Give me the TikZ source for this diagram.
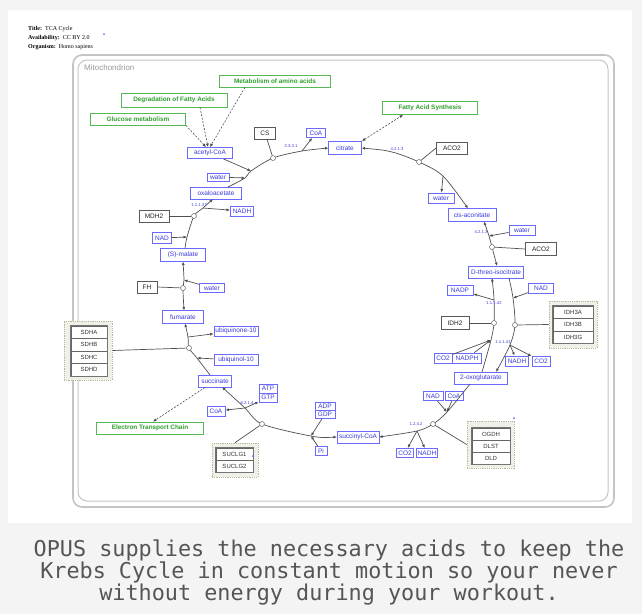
\documentclass[tikz,border=0pt]{standalone}
\usepackage{fontspec}
\setmainfont{Liberation Sans}
\newfontfamily\hdrfam{Liberation Serif}
\newfontfamily\capfam{DejaVu Sans Mono}
\usetikzlibrary{arrows.meta}
\definecolor{metb}{HTML}{6A6AFF}
\definecolor{mett}{HTML}{3A3AE0}
\definecolor{pwb}{HTML}{55B855}
\definecolor{pwt}{HTML}{2E9E2E}
\definecolor{cmpb}{HTML}{C4C4C4}
\definecolor{grpb}{HTML}{B8B8A0}
\definecolor{grpf}{HTML}{F0F0E8}
\definecolor{bgc}{HTML}{F4F4F4}
\definecolor{capc}{HTML}{555555}
\definecolor{rxc}{HTML}{505050}
\newcommand\metfnt{\fontsize{6.5}{7}\selectfont}
\newcommand\genfnt{\fontsize{6}{7}\selectfont}
\newcommand\pwfnt{\fontsize{6.4}{7}\selectfont\bfseries}
\newcommand\ecfnt{\fontsize{4.2}{4.5}\selectfont}
\newcommand\hdrfnt{\hdrfam\fontsize{6}{7}\selectfont}
\tikzset{
  met/.style={draw=metb, fill=white, text=mett, font=\metfnt, inner sep=0pt, line width=0.9pt},
  gene/.style={draw=black!65, fill=white, text=black!85, font=\metfnt, inner sep=0pt, line width=0.9pt},
  pw/.style={draw=pwb, fill=white, text=pwt, font=\pwfnt, inner sep=0pt, line width=0.8pt},
  grp/.style={draw=grpb, fill=grpf, dashed, dash pattern=on 1.2pt off 1pt, line width=0.6pt, inner sep=0pt},
  sub/.style={draw=black!60, fill=white, text=black!80, font=\genfnt, inner sep=0pt, line width=0.6pt},
  stackframe/.style={draw=black!55, line width=1.1pt},
  cat/.style={circle, draw=black!60, fill=white, inner sep=0pt, minimum size=5pt, line width=0.5pt},
  rx/.style={draw=rxc, line width=0.7pt},
  tip/.style={-{Latex[length=3.5pt,width=3pt]}},
  rtip/.style={{Latex[length=3.5pt,width=3pt]}-},
  dtip/.style={{Latex[length=3.5pt,width=3pt]}-{Latex[length=3.5pt,width=3pt]}},
  dl/.style={draw=black!70, line width=0.6pt, dash pattern=on 2pt off 1.5pt},
  ec/.style={text=mett, font=\ecfnt, inner sep=0pt},
  mk/.style={circle, fill=metb, inner sep=0pt, minimum size=2pt},
  cmp/.style={draw=cmpb, rounded corners=9pt},
}
\begin{document}
\begin{tikzpicture}[x=1pt,y=-1pt]
\useasboundingbox (0,0) rectangle (642,614);
\fill[bgc] (0,0) rectangle (642,614);
\fill[white] (8,10) rectangle (632,523);

% header
\node[font=\hdrfnt, anchor=west, inner sep=0pt] (hTitle) at (28,29) {\textbf{Title:}\ \ TCA Cycle};
\node[font=\hdrfnt, anchor=west, inner sep=0pt] (hAvail) at (28,38) {\textbf{Availability:}\ \ CC BY 2.0};
\node[font=\hdrfnt, anchor=west, inner sep=0pt] (hOrg) at (28,47) {\textbf{Organism:}\ \ Homo sapiens};
\node[mk] (mk1) at (104,34) {};

% compartment
\draw[cmp, line width=1.6pt] (73,55) rectangle (614,507);
\draw[cmp, line width=1pt] (78,60) rectangle (608,501);
\node[anchor=west, text=black!40, font=\fontsize{8}{9}\selectfont, inner sep=0pt] (mito) at (84,68) {Mitochondrion};

% pathways
\node[pw, minimum width=111, minimum height=12] (pMet) at (275,81) {Metabolism of amino acids};
\node[pw, minimum width=106, minimum height=14] (pDeg) at (174,100) {Degradation of Fatty Acids};
\node[pw, minimum width=95, minimum height=12] (pGlu) at (138,119) {Glucose metabolism};
\node[pw, minimum width=95, minimum height=13] (pFas) at (430,108) {Fatty Acid Synthesis};
\node[pw, minimum width=107, minimum height=12] (pEtc) at (150,428) {Electron Transport Chain};

% metabolites
\node[met, minimum width=45, minimum height=11] (acoa) at (210,153) {acetyl-CoA};
\node[met, minimum width=19, minimum height=9] (coaA) at (316,133) {CoA};
\node[met, minimum width=33, minimum height=13] (citrate) at (345,148) {citrate};
\node[met, minimum width=26, minimum height=10] (waterA) at (441,198) {water};
\node[met, minimum width=48, minimum height=13] (cisacon) at (472,215) {cis-aconitate};
\node[met, minimum width=26, minimum height=10] (waterB) at (522,230) {water};
\node[met, minimum width=55, minimum height=12] (isocit) at (496,272) {D-threo-isocitrate};
\node[met, minimum width=26, minimum height=10] (nadp) at (460,290) {NADP};
\node[met, minimum width=25, minimum height=10] (nadA) at (541,288) {NAD};
\node[met, minimum width=18, minimum height=10] (co2A) at (443,358) {CO2};
\node[met, minimum width=29, minimum height=10] (nadph) at (467,358) {NADPH};
\node[met, minimum width=23, minimum height=10] (nadhA) at (517,361) {NADH};
\node[met, minimum width=18, minimum height=10] (co2B) at (541,361) {CO2};
\node[met, minimum width=53, minimum height=12] (oxog) at (481,378) {2-oxoglutarate};
\node[met, minimum width=20, minimum height=9] (nadB) at (433,396) {NAD};
\node[met, minimum width=18, minimum height=9] (coaB) at (454,396) {CoA};
\node[met, minimum width=17, minimum height=9] (co2C) at (405,453) {CO2};
\node[met, minimum width=21, minimum height=9] (nadhB) at (427,453) {NADH};
\node[met, minimum width=42, minimum height=12] (succoa) at (358,437) {succinyl-CoA};
\node[met, minimum width=20, minimum height=8] (adp) at (325,406) {ADP};
\node[met, minimum width=20, minimum height=8] (gdp) at (325,414) {GDP};
\node[met, minimum width=12, minimum height=9] (pi) at (321,451) {Pi};
\node[met, minimum width=18, minimum height=10] (coaC) at (216,411) {CoA};
\node[met, minimum width=18, minimum height=9] (atp) at (268,388.5) {ATP};
\node[met, minimum width=18, minimum height=9] (gtp) at (268,397.5) {GTP};
\node[met, minimum width=33, minimum height=12] (succ) at (215,381) {succinate};
\node[met, minimum width=44, minimum height=11] (ubqol) at (236,360) {ubiquinol-10};
\node[met, minimum width=44, minimum height=10] (ubqone) at (236,331) {ubiquinone-10};
\node[met, minimum width=41, minimum height=13] (fum) at (183,317) {fumarate};
\node[met, minimum width=25, minimum height=9] (waterC) at (212,288) {water};
\node[met, minimum width=45, minimum height=13] (malate) at (183,255) {(S)-malate};
\node[met, minimum width=19, minimum height=11] (nadC) at (162,238) {NAD};
\node[met, minimum width=23, minimum height=10] (nadhC) at (242,211) {NADH};
\node[met, minimum width=51, minimum height=12] (oaa) at (216,193) {oxaloacetate};
\node[met, minimum width=22, minimum height=8] (waterD) at (218,177) {water};

% genes
\node[gene, minimum width=21, minimum height=12] (cs) at (265,133) {CS};
\node[gene, minimum width=31, minimum height=12] (aco2A) at (452,148) {ACO2};
\node[gene, minimum width=31, minimum height=13] (aco2B) at (541,249) {ACO2};
\node[gene, minimum width=28, minimum height=13] (idh2) at (455,323) {IDH2};
\node[gene, minimum width=20, minimum height=12] (fh) at (147,287) {FH};
\node[gene, minimum width=30, minimum height=12] (mdh2) at (154,216) {MDH2};

% groups
\node[grp, minimum width=48, minimum height=47] (gIDH3) at (573,324.5) {};
\node[sub, minimum width=40, minimum height=12.5] (idh3a) at (573,312.25) {IDH3A};
\node[sub, minimum width=40, minimum height=12.5] (idh3b) at (573,324.75) {IDH3B};
\node[sub, minimum width=40, minimum height=12.5] (idh3g) at (573,337.25) {IDH3G};
\draw[stackframe] (idh3a.north west) rectangle (idh3g.south east);

\node[grp, minimum width=47, minimum height=47] (gOGDH) at (490.5,444.5) {};
\node[sub, minimum width=38, minimum height=12] (ogdh) at (491,434) {OGDH};
\node[sub, minimum width=38, minimum height=12] (dlst) at (491,446) {DLST};
\node[sub, minimum width=38, minimum height=12] (dld) at (491,458) {DLD};
\draw[stackframe] (ogdh.north west) rectangle (dld.south east);
\node[mk] (mk2) at (514,418) {};

\node[grp, minimum width=46, minimum height=34] (gSUCLG) at (235,460) {};
\node[sub, minimum width=37, minimum height=12] (suclg1) at (234.5,454) {SUCLG1};
\node[sub, minimum width=37, minimum height=12] (suclg2) at (234.5,466) {SUCLG2};
\draw[stackframe] (suclg1.north west) rectangle (suclg2.south east);
\node[mk] (mk3) at (253,456) {};

\node[grp, minimum width=48, minimum height=59] (gSDH) at (88,350.5) {};
\node[sub, minimum width=36, minimum height=12.5] (sdha) at (89,332.25) {SDHA};
\node[sub, minimum width=36, minimum height=12.5] (sdhb) at (89,344.75) {SDHB};
\node[sub, minimum width=36, minimum height=12.5] (sdhc) at (89,357.25) {SDHC};
\node[sub, minimum width=36, minimum height=12.5] (sdhd) at (89,369.75) {SDHD};
\draw[stackframe] (sdha.north west) rectangle (sdhd.south east);

% junction coordinates
\coordinate (oaaT) at (228,187);
\coordinate (jA1) at (245,178);
\coordinate (jA2) at (251,171);
\coordinate (cCS) at (273,158);
\coordinate (jA3) at (302,151);
\coordinate (citW) at (328.5,148);
\coordinate (citE) at (361.5,148);
\coordinate (jB1) at (392,152);
\coordinate (cB) at (419,162);
\coordinate (jB2) at (443,176);
\coordinate (cisT) at (468,208.5);
\coordinate (cisB) at (484,221.5);
\coordinate (jC1) at (489,236);
\coordinate (cC) at (492,247);
\coordinate (isoT) at (497,266);
\coordinate (isoBL) at (492,278);
\coordinate (jD1) at (494,300);
\coordinate (cD) at (494,323);
\coordinate (jD2) at (491,340);
\coordinate (oxoTL) at (482,372);
\coordinate (isoBR) at (509,278);
\coordinate (jE1) at (513,298);
\coordinate (cE) at (515,325);
\coordinate (jE2) at (510,345);
\coordinate (oxoTR) at (496,372);
\coordinate (oxoBL) at (470,384);
\coordinate (jF1) at (447,412);
\coordinate (cF) at (433,424);
\coordinate (jF2) at (417,431);
\coordinate (succoaE) at (379,437);
\coordinate (succoaW) at (337,437);
\coordinate (jG1) at (311,436);
\coordinate (cG) at (262,424);
\coordinate (jG2) at (245,408);
\coordinate (succB) at (222,387);
\coordinate (succT) at (210,375);
\coordinate (jH1) at (197,358);
\coordinate (cH) at (189,348);
\coordinate (jH2) at (188,337);
\coordinate (fumB) at (185,323.5);
\coordinate (fumT) at (184,310.5);
\coordinate (cI) at (183,288);
\coordinate (jI1) at (184,280);
\coordinate (malB) at (183,261.5);
\coordinate (malT) at (185,248.5);
\coordinate (jJ1) at (187,237);
\coordinate (cJ) at (194,216);
\coordinate (jJ2) at (203,208);
\coordinate (oaaB) at (213,199);

% reaction curves
\draw[rx, tip] plot[smooth] coordinates {(oaaT) (jA1) (jA2) (cCS) (jA3) (citW)};
\draw[rx, dtip] plot[smooth] coordinates {(citE) (jB1) (cB) (jB2) (cisT)};
\draw[rx, dtip] plot[smooth] coordinates {(cisB) (jC1) (cC) (isoT)};
\draw[rx, rtip] plot[smooth] coordinates {(isoBL) (jD1) (cD) (jD2) (oxoTL)};
\draw[rx, tip] plot[smooth] coordinates {(isoBR) (jE1) (cE) (jE2) (oxoTR)};
\draw[rx, tip] plot[smooth] coordinates {(oxoBL) (jF1) (cF) (jF2) (succoaE)};
\draw[rx, dtip] plot[smooth] coordinates {(succoaW) (jG1) (cG) (jG2) (succB)};
\draw[rx, tip] plot[smooth] coordinates {(succT) (jH1) (cH) (jH2) (fumB)};
\draw[rx, dtip] plot[smooth] coordinates {(fumT) (cI) (jI1) (malB)};
\draw[rx, tip] plot[smooth] coordinates {(malT) (jJ1) (cJ) (jJ2) (oaaB)};

% side substrates / products
\draw[rx, tip] (acoa) -- (jA2);
\draw[rx, tip] (waterD) -- (jA1);
\draw[rx, tip] (jA3) -- (coaA);
\draw[rx, tip] (jB2) -- (waterA);
\draw[rx, tip] (waterB) -- (jC1);
\draw[rx, tip] (jD1) -- (nadp);
\draw[rx, tip] (co2A) -- (jD2);
\draw[rx, tip] (nadph) -- (jD2);
\draw[rx, tip] (nadA) -- (jE1);
\draw[rx, tip] (jE2) -- (nadhA);
\draw[rx, tip] (jE2) -- (co2B);
\draw[rx, tip] (nadB) -- (jF1);
\draw[rx, tip] (coaB) -- (jF1);
\draw[rx, tip] (jF2) -- (co2C);
\draw[rx, tip] (jF2) -- (nadhB);
\draw[rx, tip] (gdp) -- (jG1);
\draw[rx, tip] (pi) -- (jG1);
\draw[rx, tip] (jG2) -- (coaC);
\draw[rx, tip] (jG2) -- (gtp);
\draw[rx, tip] (ubqol) -- (jH1);
\draw[rx, tip] (jH2) -- (ubqone);
\draw[rx, tip] (waterC) -- (jI1);
\draw[rx, tip] (nadC) -- (jJ1);
\draw[rx, tip] (jJ2) -- (nadhC);

% catalysis circles
\node[cat] (kCS) at (cCS) {};
\node[cat] (kB) at (cB) {};
\node[cat] (kC) at (cC) {};
\node[cat] (kD) at (cD) {};
\node[cat] (kE) at (cE) {};
\node[cat] (kF) at (cF) {};
\node[cat] (kG) at (cG) {};
\node[cat] (kH) at (cH) {};
\node[cat] (kI) at (cI) {};
\node[cat] (kJ) at (cJ) {};

\draw[rx] (cs) -- (kCS);
\draw[rx] (aco2A.west) -- (kB);
\draw[rx] (aco2B.west) -- (kC);
\draw[rx] (idh2.east) -- (kD);
\draw[rx] (gIDH3.west) -- (kE);
\draw[rx] (gOGDH.west) -- (kF);
\draw[rx] (gSUCLG.north) -- (kG);
\draw[rx] (gSDH.east) -- (kH);
\draw[rx] (fh.east) -- (kI);
\draw[rx] (mdh2.east) -- (kJ);

% pathway links
\draw[dl, tip] (pGlu.south east) -- ([xshift=-4pt]acoa.north);
\draw[dl, tip] ([xshift=26pt]pDeg.south) -- ([xshift=-2pt]acoa.north);
\draw[dl, tip] ([xshift=-30pt]pMet.south) -- (acoa.north);
\draw[dl, dtip] (citrate.north east) -- ([xshift=-27pt]pFas.south);
\draw[dl, tip] ([xshift=-10pt]succ.south) -- ([xshift=3pt]pEtc.north);

% EC labels
\node[ec] (ecCS) at (291,146) {2.3.3.1};
\node[ec] (ecB) at (397,149) {4.2.1.3};
\node[ec] (ecC) at (481,232) {4.2.1.3};
\node[ec] (ecD) at (494,303) {1.1.1.42};
\node[ec] (ecE) at (503,342) {1.1.1.41};
\node[ec] (ecF) at (416,424) {1.2.4.2};
\node[ec] (ecG) at (247,403) {6.2.1.4};
\node[ec] (ecJ) at (199,205) {1.1.1.37};

% caption
\node[font=\capfam\fontsize{21.8}{22}\selectfont, text=capc, align=center, inner sep=0pt] (cap) at (329,572)
  {OPUS supplies the necessary acids to keep the\\Krebs Cycle in constant motion so your never\\without energy during your workout.};
\end{tikzpicture}
\end{document}
